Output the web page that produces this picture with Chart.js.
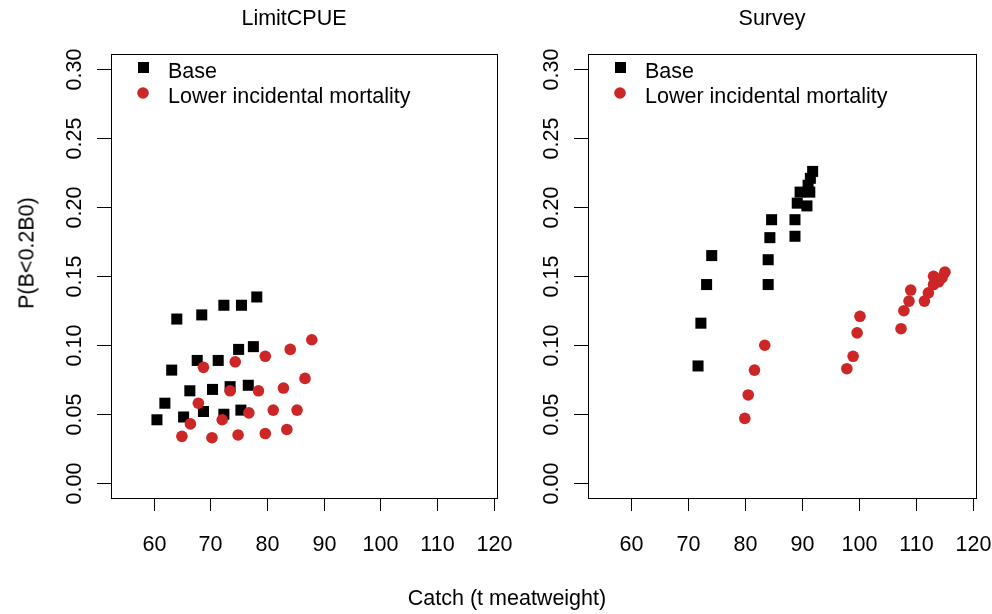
<!DOCTYPE html>
<html>
<head>
<meta charset="utf-8">
<script src="https://cdn.jsdelivr.net/npm/chart.js@4.4.1/dist/chart.umd.min.js"></script>
<style>
	body { margin: 0; background: #fff; }
	#wrap { position: relative; width: 992px; height: 614px; font-family: "Liberation Sans", Arial, sans-serif; }
	canvas { position: absolute; top: 0; }
	.lab { position: absolute; font-size: 21.5px; color: #000; white-space: nowrap; transform: translate(-50%, -50%); }
</style>
</head>
<body>
<div id="wrap">
	<canvas id="limitChart" width="530" height="614" style="left:0"></canvas>
	<canvas id="surveyChart" width="516" height="614" style="left:476px"></canvas>
	<div class="lab" style="left:507px; top:598px">Catch (t meatweight)</div>
	<div class="lab" style="left:27px; top:253px; transform: translate(-50%, -50%) rotate(-90deg)">P(B&lt;0.2B0)</div>
</div>
<script>
// Valores
const panelTitles = ['LimitCPUE', 'Survey'];
const seriesNames = ['Base', 'Lower incidental mortality'];

const catchTicks = [60, 70, 80, 90, 100, 110, 120];
const probTicks = [0, 0.05, 0.10, 0.15, 0.20, 0.25, 0.30];
const probTickLabels = ['0.00', '0.05', '0.10', '0.15', '0.20', '0.25', '0.30'];

// LimitCPUE
const limitBaseCatch = [78.2, 72.4, 75.5, 68.5, 64.1, 75.0, 77.6, 67.7, 71.4, 63.2, 66.4, 70.4, 73.5, 76.7, 62.0, 60.6, 65.3, 68.8, 72.4, 75.4];
const limitBaseProb = [0.135, 0.129, 0.129, 0.122, 0.119, 0.097, 0.099, 0.089, 0.089, 0.082, 0.067, 0.068, 0.070, 0.071, 0.058, 0.046, 0.048, 0.052, 0.050, 0.053];
const limitLowerCatch = [87.9, 84.1, 79.7, 74.4, 68.8, 86.7, 82.9, 78.5, 73.5, 67.9, 85.3, 81.1, 76.8, 72.1, 66.5, 83.5, 79.7, 74.9, 70.3, 65.0];
const limitLowerProb = [0.104, 0.097, 0.092, 0.088, 0.084, 0.076, 0.069, 0.067, 0.067, 0.058, 0.053, 0.053, 0.051, 0.046, 0.043, 0.039, 0.036, 0.035, 0.033, 0.034];

// Survey
const surveyBaseCatch = [91.9, 91.5, 91.1, 89.7, 91.4, 89.2, 90.9, 84.7, 88.8, 84.4, 88.8, 74.2, 84.1, 73.3, 84.1, 72.3, 71.8];
const surveyBaseProb = [0.226, 0.221, 0.216, 0.211, 0.211, 0.203, 0.201, 0.191, 0.191, 0.178, 0.179, 0.165, 0.162, 0.144, 0.144, 0.116, 0.085];
const surveyLowerCatch = [83.5, 81.7, 80.6, 80.0, 97.9, 99.0, 99.7, 100.2, 107.4, 107.9, 108.8, 109.1, 111.5, 112.2, 113.1, 113.1, 114.0, 114.6, 115.1];
const surveyLowerProb = [0.100, 0.082, 0.064, 0.047, 0.083, 0.092, 0.109, 0.121, 0.112, 0.125, 0.132, 0.140, 0.132, 0.138, 0.144, 0.150, 0.146, 0.149, 0.153];

const baseColor = '#000000';
const lowerColor = '#cd2626';
const FONT = '21.5px "Liberation Sans", Arial, sans-serif';

const toPoints = (xs, ys) => xs.map((v, i) => ({ x: v, y: ys[i] }));

// eixos no estilo do R: caixa, ticks para fora, rótulos do eixo y girados
const rAxes = {
	id: 'rAxes',
	afterDraw(chart, args, opts) {
		const { ctx, chartArea: a } = chart;
		const x = chart.scales.x, y = chart.scales.y;
		ctx.save();
		ctx.strokeStyle = '#000';
		ctx.lineWidth = 1;
		ctx.strokeRect(Math.round(a.left) + 0.5, Math.round(a.top) + 0.5, Math.round(a.right - a.left), Math.round(a.bottom - a.top));
		ctx.font = FONT;
		ctx.fillStyle = '#000';
		ctx.textAlign = 'center';
		ctx.textBaseline = 'middle';

		catchTicks.forEach(v => {
			const px = Math.round(x.getPixelForValue(v)) + 0.5;
			ctx.beginPath();
			ctx.moveTo(px, a.bottom);
			ctx.lineTo(px, a.bottom + 13);
			ctx.stroke();
			ctx.fillText(String(v), px, a.bottom + 47);
		});

		probTicks.forEach((v, i) => {
			const py = Math.round(y.getPixelForValue(v)) + 0.5;
			ctx.beginPath();
			ctx.moveTo(a.left - 14, py);
			ctx.lineTo(a.left, py);
			ctx.stroke();
			ctx.save();
			ctx.translate(a.left - 36, py);
			ctx.rotate(-Math.PI / 2);
			ctx.fillText(probTickLabels[i], 0, 0);
			ctx.restore();
		});

		// título do painel
		ctx.fillText(opts.title, (a.left + a.right) / 2 - 10, 19);

		// legenda
		ctx.textAlign = 'left';
		ctx.fillStyle = baseColor;
		ctx.fillRect(a.left + 27, 62, 11, 11);
		ctx.fillStyle = lowerColor;
		ctx.beginPath();
		ctx.arc(a.left + 32, 93, 5.8, 0, Math.PI * 2);
		ctx.fill();
		ctx.fillStyle = '#000';
		ctx.fillText(seriesNames[0], a.left + 57, 72.5);
		ctx.fillText(seriesNames[1], a.left + 57, 97.5);
		ctx.restore();
	}
};

const createChart = (canvasId, title, baseData, lowerData, padding) => {
	const ctx = document.getElementById(canvasId).getContext('2d');
	return new Chart(ctx, {
		type: 'scatter',
		data: {
			datasets: [{
				label: seriesNames[0],
				data: baseData,
				pointStyle: 'rect',
				pointRadius: 7.8,
				pointHoverRadius: 7.8,
				backgroundColor: baseColor,
				borderWidth: 0,
				order: 1
			}, {
				label: seriesNames[1],
				data: lowerData,
				pointStyle: 'circle',
				pointRadius: 5.8,
				pointHoverRadius: 5.8,
				backgroundColor: lowerColor,
				borderWidth: 0,
				order: 0
			}]
		},
		options: {
			responsive: false,
			animation: false,
			devicePixelRatio: 1,
			layout: { padding: padding },
			scales: {
				x: { type: 'linear', min: 52.5, max: 120.55, display: false },
				y: { type: 'linear', min: -0.0107, max: 0.3111, display: false }
			},
			plugins: {
				legend: { display: false },
				tooltip: { enabled: false },
				rAxes: { title: title }
			}
		},
		plugins: [rAxes]
	});
};

createChart('limitChart', panelTitles[0],
	toPoints(limitBaseCatch, limitBaseProb),
	toPoints(limitLowerCatch, limitLowerProb),
	{ left: 111, top: 54, right: 33, bottom: 116 });

createChart('surveyChart', panelTitles[1],
	toPoints(surveyBaseCatch, surveyBaseProb),
	toPoints(surveyLowerCatch, surveyLowerProb),
	{ left: 112, top: 54, right: 16, bottom: 116 });
</script>
</body>
</html>
